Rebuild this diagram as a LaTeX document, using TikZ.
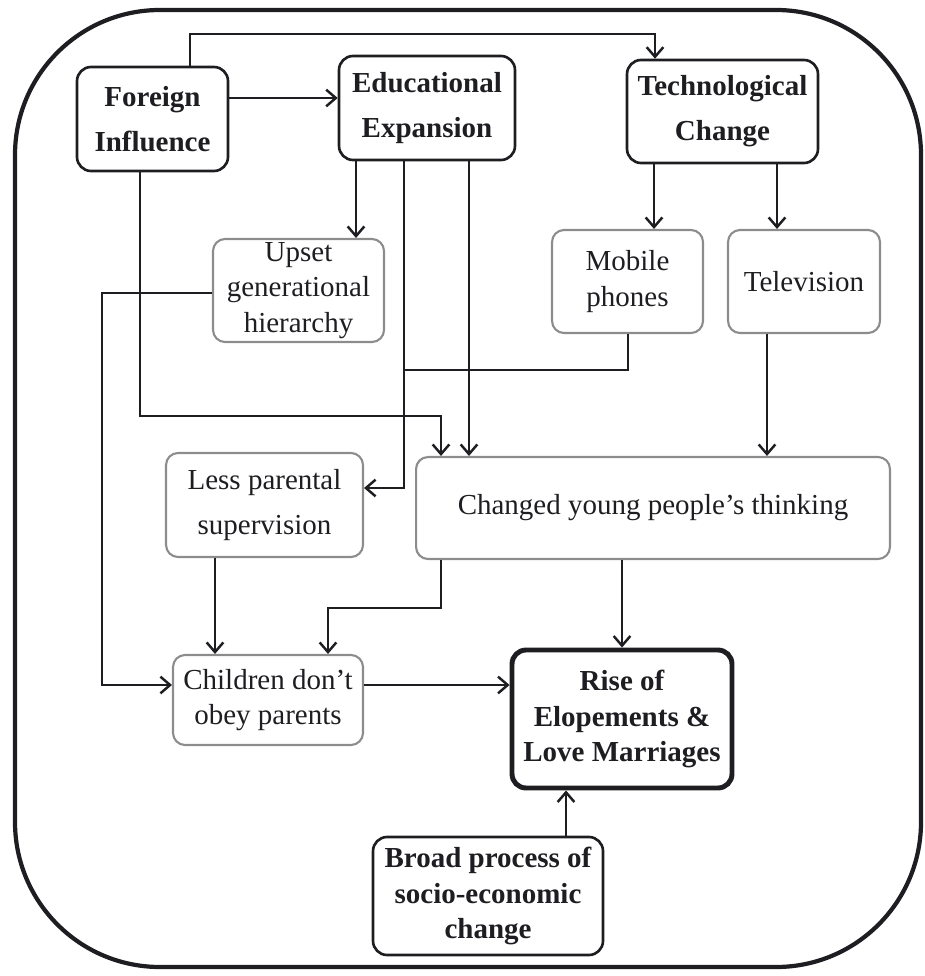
\documentclass[tikz,border=0pt]{standalone}
\usepackage{fontspec}
\setmainfont{Liberation Serif}
\usetikzlibrary{arrows.meta}
\definecolor{ink}{HTML}{1E1E22}
\definecolor{gbord}{HTML}{8C8C8C}
\tikzset{
  base/.style={rectangle, rounded corners=0.28cm, align=center, inner sep=0pt, text=ink},
  blk/.style={base, draw=ink, line width=1.5pt, font=\fontsize{16.5}{25.6}\selectfont\bfseries},
  blktight/.style={base, draw=ink, line width=1.5pt, font=\fontsize{16.5}{20}\selectfont\bfseries},
  gry/.style={base, draw=gbord, line width=1.2pt, rounded corners=0.24cm, font=\fontsize{16.5}{20}\selectfont},
  grywide/.style={gry, font=\fontsize{16.5}{25.6}\selectfont},
  arr/.style={draw=ink, line width=1.4pt, -{Straight Barb[length=5.5pt,width=9.5pt,line width=1.4pt]}},
  ln/.style={draw=ink, line width=1.4pt}
}
\begin{document}
\begin{tikzpicture}[x=0.02cm, y=-0.02cm]
\useasboundingbox (0,0) rectangle (925,976);
% outer frame
\draw[ink, line width=2.4pt, rounded corners=2.9cm] (15,10) rectangle (921,967);

% nodes
\node[blk, minimum width=3.02cm, minimum height=2.08cm] (fi) at (152.5,119) {Foreign\\Influence};
\node[blk, minimum width=3.52cm, minimum height=2.08cm] (ee) at (427,108) {Educational\\Expansion};
\node[blk, minimum width=3.82cm, minimum height=2.06cm] (tc) at (722.5,111.5) {Technological\\Change};
\node[gry, minimum width=3.42cm, minimum height=2.06cm] (up) at (298.5,290.5) {Upset\\generational\\hierarchy};
\node[gry, minimum width=3.02cm, minimum height=2.06cm] (mp) at (627.5,281.5) {Mobile\\phones};
\node[gry, minimum width=3.04cm, minimum height=2.06cm] (tv) at (804,281.5) {Television};
\node[grywide, minimum width=3.94cm, minimum height=2.08cm] (lp) at (264.5,505) {Less parental\\supervision};
\node[gry, minimum width=9.48cm, minimum height=2.04cm] (cy) at (653,508) {Changed young people’s thinking};
\node[gry, minimum width=3.80cm, minimum height=1.80cm] (ch) at (268,700) {Children don’t\\obey parents};
\node[blktight, line width=2.8pt, minimum width=4.40cm, minimum height=2.76cm] (ri) at (622,719) {Rise of\\Elopements \&\\Love Marriages};
\node[blktight, minimum width=4.60cm, minimum height=2.36cm] (bp) at (488,896) {Broad process of\\socio-economic\\change};

% connectors
\draw[arr] (190,0 |- fi.north) -- (190,34) -- (655,34) -- (655,0 |- tc.north);
\draw[arr] (fi.east |- 0,98) -- (ee.west |- 0,98);
\draw[arr] (356,0 |- ee.south) -- (356,0 |- up.north);
\draw[arr] (404,0 |- ee.south) -- (404,488) -- (lp.east |- 0,488);
\draw[arr] (469,0 |- ee.south) -- (469,0 |- cy.north);
\draw[arr] (654,0 |- tc.south) -- (654,0 |- mp.north);
\draw[arr] (777,0 |- tc.south) -- (777,0 |- tv.north);
\draw[ln] (628,0 |- mp.south) -- (628,370) -- (404,370);
\draw[arr] (140,0 |- fi.south) -- (140,416) -- (441,416) -- (441,0 |- cy.north);
\draw[arr] (up.west |- 0,293) -- (102,293) -- (102,685) -- (ch.west |- 0,685);
\draw[arr] (767,0 |- tv.south) -- (767,0 |- cy.north);
\draw[arr] (215,0 |- lp.south) -- (215,0 |- ch.north);
\draw[arr] (441,0 |- cy.south) -- (441,608) -- (328,608) -- (328,0 |- ch.north);
\draw[arr] (ch.east |- 0,685) -- (ri.west |- 0,685);
\draw[arr] (622,0 |- cy.south) -- (ri.north);
\draw[arr] (566,0 |- bp.north) -- (566,0 |- ri.south);
\end{tikzpicture}
\end{document}
